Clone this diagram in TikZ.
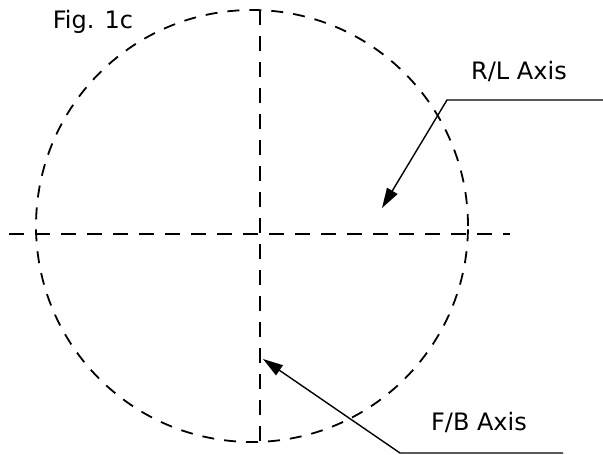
\documentclass[tikz,border=0pt]{standalone}
\usepackage{fontspec}
\setmainfont{DejaVu Sans}
\usetikzlibrary{arrows.meta}

\tikzset{
  axisline/.style={dashed, dash pattern=on 15pt off 11pt},
  rimline/.style={dashed, dash pattern=on 12pt off 10pt},
  pointer/.style={line width=1.4pt, -{Triangle[length=20pt,width=12pt]}},
  tag/.style={font=\fontsize{24}{28}\selectfont, inner sep=0pt}
}

\begin{document}
\begin{tikzpicture}[x=1pt, y=-1pt, line width=1.8pt]
  \useasboundingbox (0,0) rectangle (603,455);

  % Outer circle
  \draw[rimline] (252,226) circle [radius=216pt];

  % Axes
  \coordinate (top) at (260,10);
  \coordinate (bottom) at (260,443);
  \coordinate (left) at (9,234);
  \coordinate (right) at (510,234);
  \draw[axisline] (left) -- (right);
  \draw[axisline] (top) -- (bottom);

  % Labels
  \node[tag] (fig) at (93,22) {Fig. 1c};
  \node[tag] (rl) at (519,71) {R/L Axis};
  \node[tag] (fb) at (479,422) {F/B Axis};

  % Pointers
  \coordinate (rlend) at (603,100);
  \coordinate (rlknee) at (447,100);
  \coordinate (rltip) at (382,208);
  \draw[pointer] (rlend) -- (rlknee) -- (rltip);

  \coordinate (fbend) at (563,453);
  \coordinate (fbknee) at (400,453);
  \coordinate (fbtip) at (263,359);
  \draw[pointer] (fbend) -- (fbknee) -- (fbtip);
\end{tikzpicture}
\end{document}
